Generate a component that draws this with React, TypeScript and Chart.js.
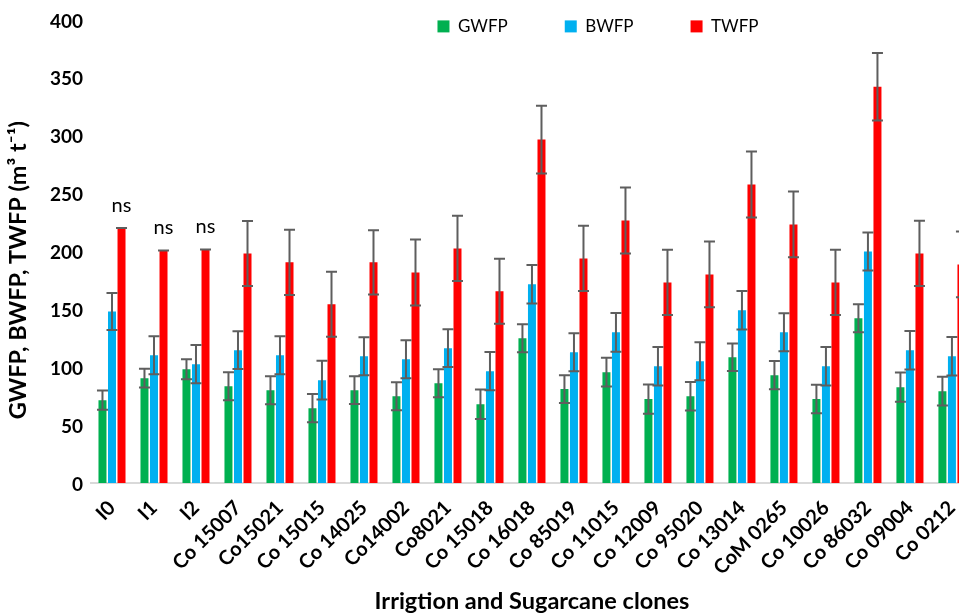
import React, { useEffect, useRef } from 'react';
import { Chart, registerables } from 'chart.js';

Chart.register(...registerables);

const FONT = 'Lato, "Noto Sans", sans-serif';

const categories = [
  'I0', 'I1', 'I2', 'Co 15007', 'Co15021', 'Co 15015', 'Co 14025', 'Co14002', 'Co8021', 'Co 15018',
  'Co 16018', 'Co 85019', 'Co 11015', 'Co 12009', 'Co 95020', 'Co 13014', 'CoM 0265', 'Co 10026',
  'Co 86032', 'Co 09004', 'Co 0212',
];

const gwfp = [71.5, 90.4, 98.2, 83.5, 80.1, 64.6, 80.1, 74.9, 86.1, 68.0, 124.9, 81.0, 95.6, 72.4, 74.9, 108.5, 93.0, 72.4, 142.1, 82.7, 79.2];
const bwfp = [148.0, 110.2, 102.5, 114.6, 110.2, 88.7, 109.4, 106.8, 116.3, 96.5, 171.4, 112.8, 130.0, 100.8, 105.1, 149.0, 130.0, 100.8, 199.8, 114.6, 109.4];
const twfp = [220.0, 200.7, 201.5, 198.0, 190.4, 154.2, 190.4, 181.7, 202.4, 165.4, 296.3, 193.8, 226.5, 173.1, 180.0, 257.5, 223.1, 173.1, 341.9, 198.1, 188.6];

const gwfpErr = [8.3, 8.1, 8.6, 12.1, 12.1, 12.1, 12.0, 12.1, 12.1, 12.7, 12.1, 12.0, 12.4, 12.6, 12.3, 11.8, 12.2, 12.3, 12.1, 12.6, 12.4];
const bwfpErr = [16.0, 16.4, 16.5, 16.3, 16.4, 16.7, 16.4, 16.4, 16.3, 16.5, 16.6, 16.4, 16.7, 16.6, 16.4, 16.6, 16.4, 16.6, 16.4, 16.6, 16.6];
const twfpErr = [0, 0, 0, 28.0, 28.2, 28.1, 27.7, 28.5, 28.2, 28.1, 29.3, 28.2, 28.5, 28.2, 28.4, 28.5, 28.4, 28.2, 29.1, 28.2, 28.4];

const seriesLabels = ['GWFP', 'BWFP', 'TWFP'];
const seriesColors = ['#00B050', '#00B0F0', '#FF0000'];
const errors = [gwfpErr, bwfpErr, twfpErr];

// significance annotations above TWFP bars
const nsMarks = ['ns', 'ns', 'ns', '', '', '', '', '', '', '', '', '', '', '', '', '', '', '', '', '', ''];

const yMin = 0;
const yMax = 400;
const yStep = 50;

const xTitle = 'Irrigtion and Sugarcane clones';
const yTitle = 'GWFP, BWFP, TWFP (m\u00B3 t\u207B\u00B9)';

const legendShift = {
  id: 'legendShift',
  afterLayout(chart: any) {
    const l = chart.legend;
    if (!l) return;
    l.left += 109;
    l.right += 109;
    l.top += 25.5;
    l.bottom += 25.5;
  },
};

const errorBars = {
  id: 'errorBars',
  afterDatasetsDraw(chart: any) {
    const ctx = chart.ctx;
    const ys = chart.scales.y;
    ctx.save();
    ctx.strokeStyle = '#5e5e5e';
    ctx.lineWidth = 2;
    chart.data.datasets.forEach((ds: any, di: number) => {
      const meta = chart.getDatasetMeta(di);
      const errs = errors[di];
      meta.data.forEach((bar: any, i: number) => {
        const v = ds.data[i];
        const e = errs[i];
        const x = bar.x;
        const yTop = ys.getPixelForValue(v + e);
        const yBot = ys.getPixelForValue(v - e);
        const hw = 5.5;
        ctx.beginPath();
        ctx.moveTo(x, yTop);
        ctx.lineTo(x, yBot);
        ctx.moveTo(x - hw, yTop);
        ctx.lineTo(x + hw, yTop);
        ctx.moveTo(x - hw, yBot);
        ctx.lineTo(x + hw, yBot);
        ctx.stroke();
      });
    });
    ctx.restore();
  },
};

const nsPlugin = {
  id: 'nsPlugin',
  afterDatasetsDraw(chart: any) {
    const ctx = chart.ctx;
    const ys = chart.scales.y;
    const meta = chart.getDatasetMeta(2);
    ctx.save();
    ctx.font = `20px ${FONT}`;
    ctx.fillStyle = '#000';
    ctx.textAlign = 'center';
    ctx.textBaseline = 'alphabetic';
    meta.data.forEach((bar: any, i: number) => {
      const t = nsMarks[i];
      if (!t) return;
      const y = ys.getPixelForValue(twfp[i] + twfpErr[i]) - 16;
      ctx.fillText(t, bar.x, y);
    });
    ctx.restore();
  },
};

const yTitlePlugin = {
  id: 'yTitlePlugin',
  afterDraw(chart: any) {
    const { ctx, chartArea } = chart;
    ctx.save();
    ctx.translate(18, (chartArea.top + chartArea.bottom) / 2 + 19);
    ctx.rotate(-Math.PI / 2);
    ctx.font = `bold 23.5px ${FONT}`;
    ctx.fillStyle = '#000';
    ctx.textAlign = 'center';
    ctx.textBaseline = 'middle';
    ctx.fillText(yTitle, 0, 0);
    ctx.restore();
  },
};

export default function App() {
  const ref = useRef<HTMLCanvasElement | null>(null);

  useEffect(() => {
    if (!ref.current) return;
    const chart = new Chart(ref.current, {
      type: 'bar',
      data: {
        labels: categories,
        datasets: [gwfp, bwfp, twfp].map((d, i) => ({
          label: seriesLabels[i],
          data: d,
          backgroundColor: seriesColors[i],
          borderWidth: 0,
        })),
      },
      options: {
        responsive: false,
        animation: false,
        devicePixelRatio: 1,
        layout: { padding: { top: -65, right: 4, left: 0, bottom: 0 } },
        datasets: { bar: { categoryPercentage: 0.68, barPercentage: 0.84 } } as any,
        plugins: {
          legend: {
            position: 'top',
            labels: {
              boxWidth: 12,
              boxHeight: 12,
              padding: 57,
              color: '#000',
              font: { family: FONT, size: 17 },
            },
          },
          tooltip: { enabled: false },
        },
        scales: {
          x: {
            grid: { display: false, drawTicks: false },
            border: { display: true, color: '#d9d9d9', width: 2 },
            ticks: {
              autoSkip: false,
              maxRotation: 45,
              minRotation: 45,
              padding: 13,
              color: '#000',
              font: { family: FONT, size: 20, weight: 'bold' },
            },
            title: {
              display: true,
              text: xTitle,
              color: '#000',
              font: { family: FONT, size: 23.5, weight: 'bold' },
              padding: { top: 0, bottom: 0 },
            },
            afterFit: (s: any) => {
              s.height = 133;
            },
          },
          y: {
            min: yMin,
            max: yMax,
            grid: { display: false, drawTicks: false },
            border: { display: false },
            ticks: {
              stepSize: yStep,
              padding: 8,
              labelOffset: 2,
              color: '#000',
              font: { family: FONT, size: 19, weight: 'bold' },
            },
            afterFit: (s: any) => {
              s.width = 91;
            },
          },
        },
      } as any,
      plugins: [legendShift, errorBars, nsPlugin, yTitlePlugin],
    });
    return () => chart.destroy();
  }, []);

  return (
    <div style={{ position: 'absolute', left: 0, top: 0, width: 959, height: 616, overflow: 'hidden', background: '#fff' }}>
      <canvas ref={ref} width={982} height={616} style={{ display: 'block' }} />
    </div>
  );
}
